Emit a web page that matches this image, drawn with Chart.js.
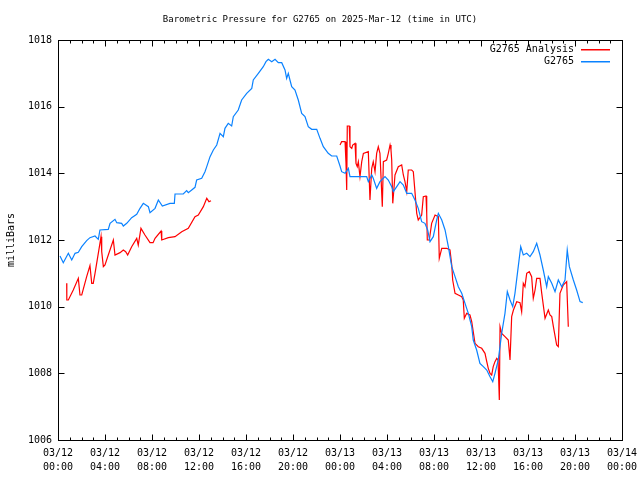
<!DOCTYPE html>
<html>
<head>
<meta charset="utf-8">
<title>Barometric Pressure G2765</title>
<script src="https://cdn.jsdelivr.net/npm/chart.js@4.4.1/dist/chart.umd.min.js"></script>
<style>
  html, body { margin: 0; padding: 0; background: #fff; }
  canvas { display: block; }
</style>
</head>
<body>
<canvas id="baroChart" width="640" height="480"></canvas>
<script>
const titleText = "Barometric Pressure for G2765 on 2025-Mar-12 (time in UTC)";
const yAxisLabel = "milliBars";
const analysisName = "G2765 Analysis";
const stationName = "G2765";

// x tick labels, one pair every 4 hours from 03/12 00:00 UTC
const tickDays = ["03/12", "03/12", "03/12", "03/12", "03/12", "03/12", "03/13", "03/13", "03/13", "03/13", "03/13", "03/13", "03/14"];
const tickTimes = ["00:00", "04:00", "08:00", "12:00", "16:00", "20:00", "00:00", "04:00", "08:00", "12:00", "16:00", "20:00", "00:00"];
const pressureTicks = [1006, 1008, 1010, 1012, 1014, 1016, 1018];

// station obs: hours since 03/12 00:00 UTC, millibars
const stationHours = [
  0.17, 0.45, 0.88, 1.17, 1.45, 1.73, 2.02, 2.44, 2.72, 3.15, 3.43, 3.57, 4.28, 4.43, 4.85, 5.0, 5.42, 5.56, 5.85, 6.27,
  6.70, 6.98, 7.26, 7.69, 7.83, 8.26, 8.54, 8.88, 9.53, 9.90, 9.96, 10.66, 10.95, 11.09, 11.38, 11.66, 11.80, 12.23, 12.51, 12.66,
  12.94, 13.22, 13.51, 13.79, 14.07, 14.21, 14.49, 14.78, 14.92, 15.34, 15.63, 16.06, 16.49, 16.62, 17.05, 17.47, 17.70, 17.90, 18.19, 18.47,
  18.75, 19.04, 19.32, 19.46, 19.60, 19.74, 19.89, 20.17, 20.45, 20.74, 21.02, 21.30, 21.59, 22.02, 22.30, 22.58, 23.00, 23.29, 23.72, 24.00,
  24.14, 24.43, 24.71, 24.85, 26.27, 26.41, 26.70, 26.83, 27.12, 27.40, 27.83, 28.11, 28.40, 28.54, 28.83, 29.11, 29.39, 29.68, 30.10, 30.38,
  30.66, 30.95, 31.23, 31.46, 31.66, 31.94, 32.23, 32.37, 32.66, 32.94, 33.22, 33.51, 33.79, 34.07, 34.36, 34.64, 34.92, 35.21, 35.34, 35.63,
  35.91, 36.20, 36.49, 36.77, 37.00, 37.19, 37.47, 37.76, 38.04, 38.24, 38.47, 38.70, 38.89, 39.17, 39.38, 39.60, 39.89, 40.17, 40.45, 40.74,
  41.02, 41.30, 41.59, 41.73, 42.02, 42.30, 42.58, 42.87, 43.15, 43.34, 43.52, 43.86, 44.14, 44.43, 44.66
];
const stationMb = [
  1011.52, 1011.32, 1011.60, 1011.40, 1011.60, 1011.63, 1011.80, 1011.98, 1012.07, 1012.12, 1012.02, 1012.30, 1012.32, 1012.50, 1012.62, 1012.52, 1012.50, 1012.42, 1012.50, 1012.67,
  1012.77, 1012.95, 1013.10, 1013.00, 1012.82, 1012.95, 1013.20, 1013.02, 1013.10, 1013.10, 1013.38, 1013.38, 1013.48, 1013.42, 1013.50, 1013.58, 1013.80, 1013.85, 1014.05, 1014.20,
  1014.50, 1014.70, 1014.85, 1015.20, 1015.10, 1015.35, 1015.50, 1015.42, 1015.70, 1015.90, 1016.20, 1016.40, 1016.55, 1016.80, 1017.00, 1017.20, 1017.35, 1017.42, 1017.35, 1017.42,
  1017.32, 1017.32, 1017.10, 1016.85, 1017.00, 1016.80, 1016.60, 1016.50, 1016.20, 1015.80, 1015.70, 1015.40, 1015.32, 1015.32, 1015.05, 1014.80, 1014.60, 1014.52, 1014.52, 1014.22,
  1014.05, 1014.00, 1014.15, 1013.90, 1013.90, 1013.75, 1013.95, 1013.85, 1013.55, 1013.75, 1013.90, 1013.80, 1013.60, 1013.45, 1013.60, 1013.75, 1013.65, 1013.40, 1013.40, 1013.20,
  1012.95, 1012.55, 1012.50, 1012.30, 1011.95, 1012.10, 1012.60, 1012.80, 1012.60, 1012.30, 1011.80, 1011.20, 1010.90, 1010.60, 1010.40, 1010.10, 1009.80, 1009.40, 1009.00, 1008.70,
  1008.30, 1008.20, 1008.10, 1007.90, 1007.75, 1008.00, 1008.40, 1009.20, 1009.80, 1010.45, 1010.20, 1010.00, 1010.40, 1011.20, 1011.80, 1011.55, 1011.60, 1011.50, 1011.65, 1011.90,
  1011.55, 1011.10, 1010.60, 1010.90, 1010.70, 1010.45, 1010.80, 1010.60, 1010.80, 1011.70, 1011.20, 1010.80, 1010.50, 1010.15, 1010.12
];

// analysis: same units, null marks the missing stretch
const analysisHours = [
  0.74, 0.75, 0.88, 1.30, 1.73, 1.87, 2.02, 2.44, 2.72, 2.87, 3.00, 3.15, 3.57, 3.66, 3.72, 3.86, 4.00, 4.28, 4.71, 4.85,
  5.28, 5.56, 5.76, 5.93, 6.27, 6.70, 6.83, 7.06, 7.40, 7.83, 8.09, 8.26, 8.77, 8.83, 9.39, 9.96, 10.53, 11.09, 11.66, 11.94,
  12.37, 12.66, 12.85, 13.02,
  18.0,
  24.00, 24.14, 24.43, 24.51, 24.57, 24.62, 24.79, 24.85, 25.00, 25.08, 25.28, 25.36, 25.47, 25.56, 25.70, 25.85, 25.99, 26.41, 26.55, 26.70,
  26.83, 26.98, 27.12, 27.26, 27.40, 27.49, 27.60, 27.69, 27.97, 28.11, 28.26, 28.34, 28.40, 28.49, 28.68, 28.96, 29.25, 29.39, 29.53, 29.68,
  29.81, 30.10, 30.24, 30.38, 30.53, 30.66, 30.95, 31.09, 31.32, 31.38, 31.43, 31.60, 31.80, 32.09, 32.37, 32.45, 32.66, 33.08, 33.36, 33.51,
  33.59, 33.79, 34.07, 34.36, 34.49, 34.58, 34.78, 35.06, 35.21, 35.49, 35.77, 36.06, 36.34, 36.49, 36.62, 36.77, 36.91, 37.04, 37.19, 37.34,
  37.45, 37.56, 37.62, 37.76, 38.04, 38.32, 38.47, 38.61, 38.76, 39.04, 39.32, 39.46, 39.60, 39.74, 39.89, 40.11, 40.31, 40.45, 40.60, 40.74,
  41.02, 41.17, 41.45, 41.73, 41.87, 42.02, 42.16, 42.44, 42.58, 42.72, 43.00, 43.29, 43.43
];
const analysisMb = [
  1010.70, 1010.20, 1010.20, 1010.50, 1010.85, 1010.35, 1010.35, 1010.90, 1011.23, 1010.70, 1010.70, 1011.00, 1011.90, 1012.10, 1011.65, 1011.20, 1011.25, 1011.55, 1012.00, 1011.55,
  1011.62, 1011.70, 1011.65, 1011.55, 1011.80, 1012.05, 1011.85, 1012.35, 1012.15, 1011.92, 1011.92, 1012.05, 1012.27, 1012.00, 1012.07, 1012.10, 1012.25, 1012.35, 1012.70, 1012.75,
  1013.00, 1013.25, 1013.15, 1013.18,
  null,
  1014.85, 1014.95, 1014.95, 1014.30, 1013.50, 1015.42, 1015.42, 1014.80, 1014.75, 1014.85, 1014.90, 1014.30, 1014.20, 1014.35, 1013.90, 1014.35, 1014.60, 1014.65, 1013.20, 1014.15,
  1014.35, 1014.05, 1014.60, 1014.80, 1014.60, 1013.90, 1013.00, 1014.35, 1014.40, 1014.60, 1014.85, 1014.70, 1014.40, 1013.10, 1013.95, 1014.20, 1014.25, 1013.95, 1013.75, 1013.45,
  1014.10, 1014.10, 1014.05, 1013.45, 1012.80, 1012.60, 1012.75, 1013.30, 1013.32, 1012.80, 1012.00, 1012.00, 1012.50, 1012.75, 1012.70, 1011.45, 1011.75, 1011.75, 1011.70, 1011.25,
  1010.80, 1010.40, 1010.35, 1010.30, 1010.20, 1009.65, 1009.80, 1009.75, 1009.55, 1008.90, 1008.80, 1008.75, 1008.60, 1008.35, 1008.15, 1008.00, 1007.95, 1008.20, 1008.35, 1008.45,
  1008.40, 1007.20, 1009.40, 1009.20, 1009.10, 1009.00, 1008.40, 1009.70, 1009.90, 1010.15, 1010.12, 1009.85, 1010.70, 1010.60, 1011.00, 1011.05, 1010.90, 1010.25, 1010.50, 1010.85,
  1010.85, 1010.40, 1009.65, 1009.90, 1009.75, 1009.70, 1009.40, 1008.85, 1008.80, 1010.40, 1010.65, 1010.75, 1009.40
];

const monoFont = "'DejaVu Sans Mono', 'Liberation Mono', monospace";
const analysisColor = "#ff0000";
const stationColor = "#0a82ff";

const toPoints = (xs, ys) => xs.map((x, i) => ({ x: x, y: ys[i] }));

// gnuplot look: closed frame, inward ticks mirrored on all sides, key at top right
const gnuplotFrame = {
  id: "gnuplotFrame",
  afterDraw(chart) {
    const { ctx, chartArea: area, scales } = chart;
    const left = Math.round(area.left) + 0.5;
    const right = Math.round(area.right) + 0.5;
    const top = Math.round(area.top) + 0.5;
    const bottom = Math.round(area.bottom) + 0.5;

    ctx.save();
    ctx.strokeStyle = "#000";
    ctx.lineWidth = 1;
    ctx.strokeRect(left, top, right - left, bottom - top);

    ctx.beginPath();
    for (let h = 0; h <= 48; h++) {
      const px = Math.round(scales.x.getPixelForValue(h)) + 0.5;
      const len = h % 4 === 0 ? 6 : 3;
      ctx.moveTo(px, bottom);
      ctx.lineTo(px, bottom - len);
      ctx.moveTo(px, top);
      ctx.lineTo(px, top + len);
    }
    pressureTicks.forEach((v) => {
      const py = Math.round(scales.y.getPixelForValue(v)) + 0.5;
      ctx.moveTo(left, py);
      ctx.lineTo(left + 6, py);
      ctx.moveTo(right, py);
      ctx.lineTo(right - 6, py);
    });
    ctx.stroke();

    ctx.fillStyle = "#000";
    ctx.textBaseline = "middle";
    ctx.textAlign = "center";
    ctx.font = "9px " + monoFont;
    ctx.fillText(titleText, 320, 20);

    ctx.font = "10px " + monoFont;
    ctx.save();
    ctx.translate(11, 240);
    ctx.rotate(-Math.PI / 2);
    ctx.fillText(yAxisLabel, 0, 0);
    ctx.restore();

    const keyRows = [
      { label: analysisName, color: analysisColor, y: 49 },
      { label: stationName, color: stationColor, y: 61 }
    ];
    ctx.textAlign = "right";
    keyRows.forEach((row) => {
      ctx.fillStyle = "#000";
      ctx.fillText(row.label, 574, row.y);
      ctx.fillStyle = row.color;
      ctx.fillRect(581, row.y, 29, 1.5);
    });
    ctx.restore();
  }
};

new Chart(document.getElementById("baroChart"), {
  type: "line",
  data: {
    datasets: [
      {
        label: analysisName,
        data: toPoints(analysisHours, analysisMb),
        borderColor: analysisColor,
        borderWidth: 1.2,
        pointRadius: 0,
        tension: 0,
        spanGaps: false,
        order: 1
      },
      {
        label: stationName,
        data: toPoints(stationHours, stationMb),
        borderColor: stationColor,
        borderWidth: 1.2,
        pointRadius: 0,
        tension: 0,
        order: 0
      }
    ]
  },
  options: {
    responsive: false,
    devicePixelRatio: 1,
    animation: false,
    events: [],
    layout: { padding: { top: 40, right: 18, left: 0, bottom: 0 } },
    plugins: {
      legend: { display: false },
      tooltip: { enabled: false },
      title: { display: false }
    },
    scales: {
      x: {
        type: "linear",
        min: 0,
        max: 48,
        afterFit: (scale) => {
          scale.height = 40;
          // let the last label hang into the right margin like gnuplot does
          scale.paddingRight = 0;
          scale.paddingLeft = 0;
        },
        grid: { display: false, drawTicks: false },
        border: { display: false },
        ticks: {
          stepSize: 4,
          autoSkip: false,
          maxRotation: 0,
          padding: 6,
          color: "#000",
          font: { family: monoFont, size: 10, lineHeight: 1.4 },
          callback: (val) => {
            const i = Math.round(val / 4);
            return [tickDays[i], tickTimes[i]];
          }
        }
      },
      y: {
        min: 1006,
        max: 1018,
        afterFit: (scale) => { scale.width = 58; },
        grid: { display: false, drawTicks: false },
        border: { display: false },
        ticks: {
          stepSize: 2,
          padding: 6,
          color: "#000",
          font: { family: monoFont, size: 10 },
          callback: (val) => String(val)
        }
      }
    }
  },
  plugins: [gnuplotFrame]
});
</script>
</body>
</html>
